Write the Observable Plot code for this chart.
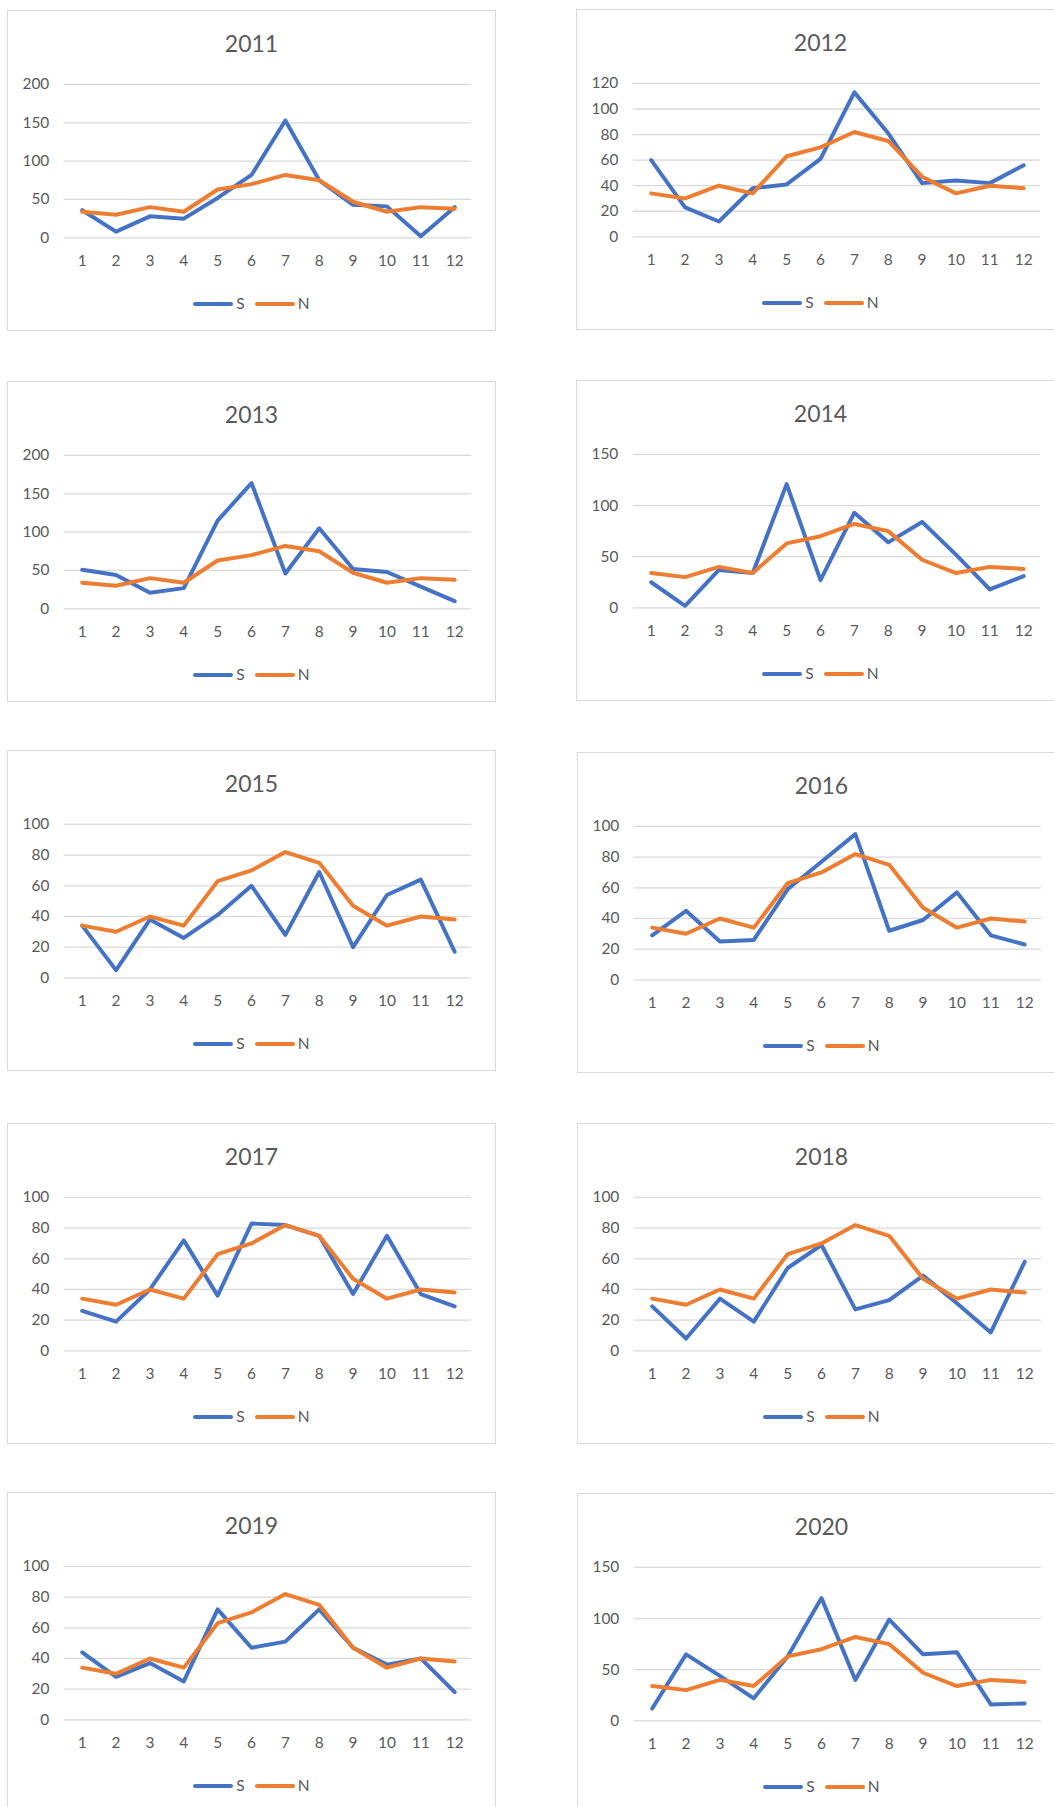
<!DOCTYPE html>
<html>
<head>
<meta charset="utf-8">
<script src="https://cdn.jsdelivr.net/npm/d3@7"></script>
<script src="https://cdn.jsdelivr.net/npm/@observablehq/plot@0.6"></script>
<style>
  html, body { margin: 0; padding: 0; background: #fff; overflow: hidden; }
  #root { position: relative; width: 1054px; height: 1807px; overflow: hidden; font-family: Lato, "Open Sans", sans-serif; }
  .panel { position: absolute; width: 489px; height: 321px; border: 1px solid #D9D9D9; box-sizing: border-box; background: #fff; }
  .title { position: absolute; left: 0; right: 0; top: 17px; text-align: center; font-size: 23px; line-height: 30px; color: #595959; }
  .panel svg { position: absolute; left: -1px; top: 59px; overflow: visible; }
  .legend { position: absolute; left: 0; right: 0; top: 280px; height: 24px; text-align: center; font-size: 15.5px; line-height: 24px; color: #595959; white-space: nowrap; }
  .item { display: inline-block; margin: 0 5px; }
  .swatch { display: inline-block; width: 40px; height: 4px; border-radius: 2px; vertical-align: middle; margin-right: 3px; position: relative; top: -1px; }
</style>
</head>
<body>
<div id="root"></div>
<script>
// ---- data ----
const months = [1, 2, 3, 4, 5, 6, 7, 8, 9, 10, 11, 12];
const years = [2011, 2012, 2013, 2014, 2015, 2016, 2017, 2018, 2019, 2020];
const seriesNames = ["S", "N"];
const seriesColors = ["#4472C4", "#ED7D31"];

// N is the same reference curve in every year
const nValues = [34, 30, 40, 34, 63, 70, 82, 75, 47, 34, 40, 38];

const s2011 = [36, 8, 28, 25, 52, 82, 153, 75, 43, 41, 2, 40];
const s2012 = [60, 23, 12, 38, 41, 61, 113, 81, 42, 44, 42, 56];
const s2013 = [51, 44, 21, 27, 115, 164, 46, 105, 52, 48, 29, 10];
const s2014 = [25, 2, 37, 34, 121, 27, 93, 64, 84, 52, 18, 31];
const s2015 = [34, 5, 38, 26, 41, 60, 28, 69, 20, 54, 64, 17];
const s2016 = [29, 45, 25, 26, 59, 77, 95, 32, 39, 57, 29, 23];
const s2017 = [26, 19, 40, 72, 36, 83, 82, 75, 37, 75, 37, 29];
const s2018 = [29, 8, 34, 19, 54, 69, 27, 33, 49, 31, 12, 58];
const s2019 = [44, 28, 37, 25, 72, 47, 51, 72, 47, 36, 40, 18];
const s2020 = [12, 65, 44, 22, 63, 120, 40, 99, 65, 67, 16, 17];
const sValues = [s2011, s2012, s2013, s2014, s2015, s2016, s2017, s2018, s2019, s2020];

const ticks50to200 = [0, 50, 100, 150, 200];
const ticks20to120 = [0, 20, 40, 60, 80, 100, 120];
const ticks50to150 = [0, 50, 100, 150];
const ticks20to100 = [0, 20, 40, 60, 80, 100];
const yTicks = [ticks50to200, ticks20to120, ticks50to200, ticks50to150, ticks20to100,
                ticks20to100, ticks20to100, ticks20to100, ticks20to100, ticks50to150];

// panel placement (layout only)
const panelPos = [[7, 10], [576, 9], [7, 381], [576, 380], [7, 750], [577, 752], [7, 1123], [577, 1123], [7, 1492], [577, 1493]];

// ---- drawing ----
const root = document.getElementById("root");

years.forEach((year, i) => {
  const panel = document.createElement("div");
  panel.className = "panel";
  panel.style.left = panelPos[i][0] + "px";
  panel.style.top = panelPos[i][1] + "px";

  const title = document.createElement("div");
  title.className = "title";
  title.textContent = String(year);
  panel.appendChild(title);

  const rowsS = months.map((m, k) => ({month: m, value: sValues[i][k], series: "S"}));
  const rowsN = months.map((m, k) => ({month: m, value: nValues[k], series: "N"}));
  const ticks = yTicks[i];

  const chart = Plot.plot({
    width: 489,
    height: 210,
    marginTop: 14,
    marginBottom: 42,
    marginLeft: 57,
    marginRight: 23,
    style: {fontFamily: "Lato, 'Open Sans', sans-serif", fontSize: "15.5px", color: "#595959", background: "transparent", overflow: "visible"},
    x: {type: "point", domain: months, padding: 0.5, label: null, tickSize: 0, tickPadding: 17},
    y: {domain: [0, d3.max(ticks)], ticks: ticks, label: null, tickSize: 0, tickPadding: 15},
    color: {domain: seriesNames, range: seriesColors},
    marks: [
      Plot.ruleY(ticks, {stroke: "#D9D9D9", strokeWidth: 1.3}),
      Plot.line(rowsS, {x: "month", y: "value", stroke: "series", strokeWidth: 4, strokeLinejoin: "round", strokeLinecap: "round"}),
      Plot.line(rowsN, {x: "month", y: "value", stroke: "series", strokeWidth: 4, strokeLinejoin: "round", strokeLinecap: "round"})
    ]
  });
  panel.appendChild(chart);

  const legend = document.createElement("div");
  legend.className = "legend";
  seriesNames.forEach((name, k) => {
    const item = document.createElement("span");
    item.className = "item";
    const sw = document.createElement("span");
    sw.className = "swatch";
    sw.style.background = seriesColors[k];
    item.appendChild(sw);
    item.appendChild(document.createTextNode(name));
    legend.appendChild(item);
  });
  panel.appendChild(legend);

  root.appendChild(panel);
});
</script>
</body>
</html>
